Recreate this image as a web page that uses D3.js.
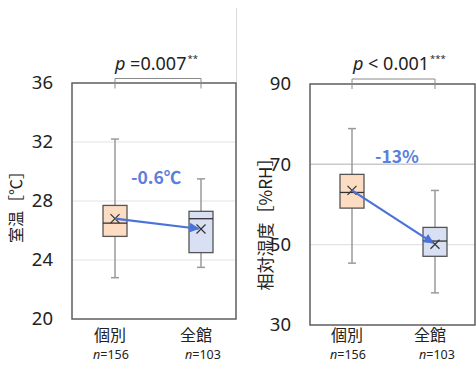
<!DOCTYPE html>
<html><head><meta charset="utf-8">
<script src="https://cdn.jsdelivr.net/npm/d3@7"></script>
<style>
html,body{margin:0;padding:0;background:#fff;}
svg{display:block;font-family:"Noto Sans CJK JP","Noto Sans",sans-serif;}
</style></head>
<body>
<script>
// ---- data ----
const categories = ["個別", "全館"];
const nCounts = ["156", "103"];
// [whiskerLow, q1, median, q3, whiskerHigh, mean]
const tempIndividual = [22.8, 25.6, 26.5, 27.7, 32.2, 26.8];
const tempCentral    = [23.5, 24.5, 26.8, 27.3, 29.5, 26.1];
const humIndividual  = [45.4, 59.1, 63.0, 67.5, 78.9, 63.5];
const humCentral     = [38.0, 47.1, 50.9, 54.3, 63.5, 50.1];
const tempTicks = [20, 24, 28, 32, 36];
const humTicks = [30, 50, 70, 90];
const tempTitle = "室温［℃］";
const humTitle = "相対湿度［%RH］";
const tempDiff = "-0.6℃";
const humDiff = "-13%";
const tempP = ["p", " =0.007", "**"];
const humP = ["p", " < 0.001", "***"];

const W = 476, H = 367;
const svg = d3.select("body").append("svg").attr("width", W).attr("height", H);
const blue = "#4a72d8";
const fills = ["#fcdcc3", "#d9e0f3"];

svg.append("defs").append("marker")
  .attr("id", "arr").attr("viewBox", "0 0 10 10").attr("refX", 9).attr("refY", 5)
  .attr("markerWidth", 4.5).attr("markerHeight", 4.5).attr("orient", "auto")
  .append("path").attr("d", "M0,0L10,5L0,10Z").attr("fill", blue);

// separator
svg.append("line").attr("x1", 236.5).attr("x2", 236.5).attr("y1", 8).attr("y2", 83)
  .attr("stroke", "#dadada").attr("stroke-width", 1);

function panel(cfg) {
  const {left, right, top, bottom, domain, ticks, data, title, titleX, titleY, titleSize, diff, diffX, diffY, pText, pX, bracket, darkGrid} = cfg;
  const y = d3.scaleLinear().domain(domain).range([bottom, top]);
  const x = d3.scalePoint().domain(categories).range([left + cfg.padL, right - cfg.padR]);
  const g = svg.append("g");

  // gridlines
  g.selectAll(".grid").data(ticks.filter(t => t !== domain[0] && t !== domain[1])).join("line")
    .attr("x1", left).attr("x2", right)
    .attr("y1", d => y(d)).attr("y2", d => y(d))
    .attr("stroke", d => d === darkGrid ? "#c9c9c9" : "#e3e3e3")
    .attr("stroke-width", d => d === darkGrid ? 1.5 : 1.2);

  // axis
  const ax = g.append("g").attr("transform", `translate(${left},0)`)
    .call(d3.axisLeft(y).tickValues(ticks).tickSize(0).tickPadding(19));
  ax.select(".domain").remove();
  ax.selectAll("text").attr("font-size", 18.5).attr("fill", "#222")
    .attr("font-family", "'Noto Sans','Noto Sans CJK JP',sans-serif");

  // frame
  g.append("rect").attr("x", left).attr("y", top).attr("width", right - left).attr("height", bottom - top)
    .attr("fill", "none").attr("stroke", "#5e5e5e").attr("stroke-width", 1.5);

  const bw = 24;
  data.forEach((d, i) => {
    const cx = x(categories[i]);
    const [lo, q1, med, q3, hi, mean] = d;
    g.append("line").attr("x1", cx).attr("x2", cx).attr("y1", y(hi)).attr("y2", y(lo))
      .attr("stroke", "#9a9a9a").attr("stroke-width", 1.5);
    [lo, hi].forEach(v => g.append("line").attr("x1", cx - 4).attr("x2", cx + 4)
      .attr("y1", y(v)).attr("y2", y(v)).attr("stroke", "#9a9a9a").attr("stroke-width", 1.5));
    g.append("rect").attr("x", cx - bw / 2).attr("y", y(q3)).attr("width", bw).attr("height", y(q1) - y(q3))
      .attr("fill", fills[i]).attr("stroke", "#555").attr("stroke-width", 1.3);
    g.append("line").attr("x1", cx - bw / 2).attr("x2", cx + bw / 2).attr("y1", y(med)).attr("y2", y(med))
      .attr("stroke", "#333").attr("stroke-width", 1.3);
    const s = 4.5, my = y(mean);
    g.append("path").attr("d", `M${cx - s},${my - s}L${cx + s},${my + s}M${cx - s},${my + s}L${cx + s},${my - s}`)
      .attr("stroke", "#333").attr("stroke-width", 1.2).attr("fill", "none");
    // category label
    g.append("text").attr("x", cx - 5).attr("y", 341).attr("text-anchor", "middle")
      .attr("font-size", 16).attr("fill", "#222").text(categories[i]);
    const nt = g.append("text").attr("x", cx - 4 + i * 6).attr("y", 359).attr("text-anchor", "middle")
      .attr("font-size", 12.5).attr("fill", "#222").attr("font-family", "'Noto Sans',sans-serif");
    nt.append("tspan").attr("font-style", "italic").text("n");
    nt.append("tspan").text("=" + nCounts[i]);
  });

  // arrow between means
  const x1 = x(categories[0]), y1 = y(data[0][5]);
  const x2 = x(categories[1]), y2 = y(data[1][5]);
  const len = Math.hypot(x2 - x1, y2 - y1);
  const sh = 2.5;
  g.append("line").attr("x1", x1).attr("y1", y1)
    .attr("x2", x2 - (x2 - x1) / len * sh).attr("y2", y2 - (y2 - y1) / len * sh)
    .attr("stroke", blue).attr("stroke-width", 2.2).attr("marker-end", "url(#arr)");

  g.append("text").attr("x", diffX).attr("y", diffY).attr("font-size", 17.5).attr("font-weight", "bold")
    .attr("fill", "#5b80dc").attr("font-family", "'Noto Sans CJK JP','Noto Sans',sans-serif").text(diff);

  // bracket
  const by = bracket.y;
  g.append("path").attr("d", `M${x1},${by + 10}V${by}H${x2}V${by + 10}`)
    .attr("fill", "none").attr("stroke", "#8a8a8a").attr("stroke-width", 1);
  const pt = g.append("text").attr("x", pX).attr("y", 70).attr("font-size", 18).attr("fill", "#222")
    .attr("font-family", "'Noto Sans',sans-serif");
  pt.append("tspan").attr("font-style", "italic").text(pText[0]);
  pt.append("tspan").text(pText[1]);
  pt.append("tspan").attr("font-size", 9.5).attr("dy", -8).attr("dx", 1).text(pText[2]);

  // y title
  g.append("text").attr("transform", `translate(${titleX},${titleY}) rotate(-90)`)
    .attr("text-anchor", "middle").attr("dominant-baseline", "central")
    .attr("font-size", titleSize).attr("fill", "#222").text(title);
}

panel({left: 72, right: 236, top: 83, bottom: 319, domain: [20, 36], ticks: tempTicks,
  padL: 43, padR: 35, data: [tempIndividual, tempCentral], title: tempTitle, titleX: 15, titleY: 203, titleSize: 16,
  diff: tempDiff, diffX: 131, diffY: 184, pText: tempP, pX: 115, bracket: {y: 78.5}, darkGrid: null});

panel({left: 310, right: 475, top: 84, bottom: 325, domain: [30, 90], ticks: humTicks,
  padL: 42, padR: 40, data: [humIndividual, humCentral], title: humTitle, titleX: 264, titleY: 220, titleSize: 17,
  diff: humDiff, diffX: 375, diffY: 163, pText: humP, pX: 353, bracket: {y: 79}, darkGrid: 70});
</script>
</body></html>
